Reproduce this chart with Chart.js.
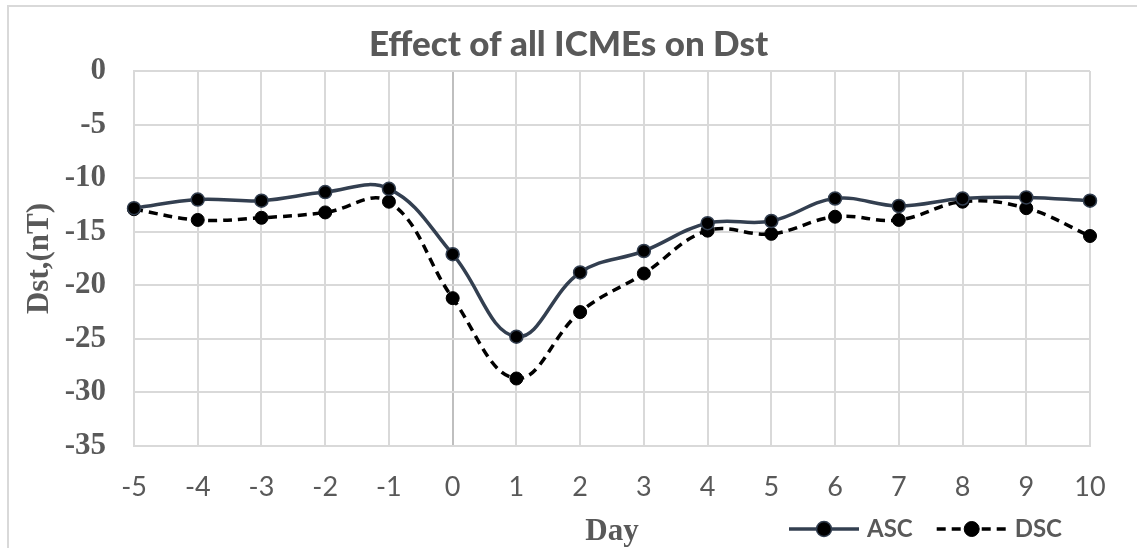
<!DOCTYPE html>
<html>
<head>
<meta charset="utf-8">
<title>Effect of all ICMEs on Dst</title>
<script src="https://cdn.jsdelivr.net/npm/chart.js@4.4.1/dist/chart.umd.min.js"></script>
<style>
  html, body { margin: 0; padding: 0; background: #fff; }
  #wrap { width: 1137px; height: 548px; }
</style>
</head>
<body>
<div id="wrap"><canvas id="dst" width="1137" height="548"></canvas></div>
<script>
// Days relative to ICME arrival (day 0)
const days = ["-5", "-4", "-3", "-2", "-1", "0", "1", "2", "3", "4", "5", "6", "7", "8", "9", "10"];

// Mean Dst (nT) for ascending and descending solar-cycle phases
const ascDst = [-12.8, -12.0, -12.1, -11.3, -11.0, -17.1, -24.8, -18.8, -16.8, -14.2, -14.0, -11.9, -12.6, -11.9, -11.8, -12.1];
const dscDst = [-12.9, -13.9, -13.7, -13.2, -12.2, -21.2, -28.7, -22.5, -18.9, -14.9, -15.2, -13.6, -13.9, -12.2, -12.8, -15.4];

const yTicks = [0, -5, -10, -15, -20, -25, -30, -35];

const GREY = "#595959";
const GRID = "#d9d9d9";
const ZERO_LINE = "#bfbfbf";
const SANS = "Lato, 'Open Sans', sans-serif";
const SERIF = "'Liberation Serif', 'DejaVu Serif', serif";

// light frame round the whole chart
const framePlugin = {
    id: "frame",
    beforeDraw(chart) {
        const { ctx, width, height } = chart;
        ctx.save();
        ctx.fillStyle = "#fff";
        ctx.fillRect(0, 0, width, height);
        ctx.strokeStyle = GRID;
        ctx.lineWidth = 2;
        ctx.strokeRect(8, 6, width + 20, height + 20);
        ctx.restore();
    }
};

// legend: line sample with marker in the middle, sat next to the axis title
const lineLegend = {
    id: "lineLegend",
    afterDraw(chart) {
        const { ctx, chartArea } = chart;
        const y = chart.height - 19;
        let x = chartArea.right - 301;
        ctx.save();
        ctx.font = "bold 24px " + SANS;
        ctx.textBaseline = "middle";
        chart.data.datasets.forEach(ds => {
            ctx.strokeStyle = ds.borderColor;
            ctx.lineWidth = ds.borderWidth;
            ctx.setLineDash(ds.borderDash || []);
            ctx.beginPath();
            ctx.moveTo(x, y);
            ctx.lineTo(x + 70, y);
            ctx.stroke();
            ctx.setLineDash([]);
            ctx.beginPath();
            ctx.arc(x + 35, y, ds.pointRadius + 1, 0, Math.PI * 2);
            ctx.fillStyle = ds.pointBackgroundColor;
            ctx.fill();
            ctx.lineWidth = ds.pointBorderWidth;
            ctx.strokeStyle = ds.pointBorderColor;
            ctx.stroke();
            ctx.fillStyle = GREY;
            ctx.fillText(ds.label, x + 78, y);
            x += 78 + ctx.measureText(ds.label).width + 24;
        });
        ctx.restore();
    }
};

new Chart(document.getElementById("dst"), {
    type: "line",
    data: {
        labels: days,
        datasets: [
            {
                label: "ASC",
                data: ascDst,
                borderColor: "#333f50",
                borderWidth: 3.5,
                tension: 0.4,
                pointRadius: 6.5,
                pointBackgroundColor: "#000",
                pointBorderColor: "#333f50",
                pointBorderWidth: 1.5,
                clip: false
            },
            {
                label: "DSC",
                data: dscDst,
                borderColor: "#000",
                borderWidth: 3.5,
                borderDash: [9, 6],
                tension: 0.4,
                pointRadius: 6.5,
                pointBackgroundColor: "#000",
                pointBorderColor: "#000",
                pointBorderWidth: 1,
                clip: false
            }
        ]
    },
    options: {
        responsive: false,
        animation: false,
        layout: { padding: 0 },
        plugins: {
            legend: { display: false },
            tooltip: { enabled: false },
            title: {
                display: true,
                text: "Effect of all ICMEs on Dst",
                color: GREY,
                font: { family: SANS, size: 35, weight: 900, lineHeight: 1.2 },
                padding: { top: 24, bottom: 5 }
            }
        },
        scales: {
            x: {
                offset: false,
                grid: {
                    color: ctx => (ctx.tick && ctx.tick.label === "0" ? ZERO_LINE : GRID),
                    lineWidth: 2,
                    drawTicks: false
                },
                border: { color: GRID, width: 2 },
                ticks: {
                    color: GREY,
                    font: { family: SANS, size: 27 },
                    padding: 25,
                    maxRotation: 0,
                    autoSkip: false
                },
                title: {
                    display: true,
                    text: "Day",
                    color: GREY,
                    font: { family: SERIF, size: 31, weight: "bold", lineHeight: 1 },
                    padding: { top: 0, bottom: 1 }
                },
                afterFit: s => { s.height = 102; }
            },
            y: {
                min: -35,
                max: 0,
                afterBuildTicks: s => { s.ticks = yTicks.map(v => ({ value: v })); },
                grid: { color: GRID, lineWidth: 2, drawTicks: false },
                border: { color: GRID, width: 2 },
                ticks: {
                    color: GREY,
                    font: { family: SERIF, size: 31, weight: "bold" },
                    padding: 28
                },
                title: {
                    display: true,
                    text: "Dst,(nT)",
                    color: GREY,
                    font: { family: SERIF, size: 31, weight: "bold", lineHeight: 1.2 },
                    padding: { top: 21, bottom: 0 }
                },
                afterFit: s => { s.width = 134; }
            },
            // keeps the right margin of the plot
            yRight: {
                position: "right",
                grid: { display: false },
                border: { display: false },
                ticks: { display: false },
                afterFit: s => { s.width = 47; }
            }
        }
    },
    plugins: [framePlugin, lineLegend]
});
</script>
</body>
</html>
